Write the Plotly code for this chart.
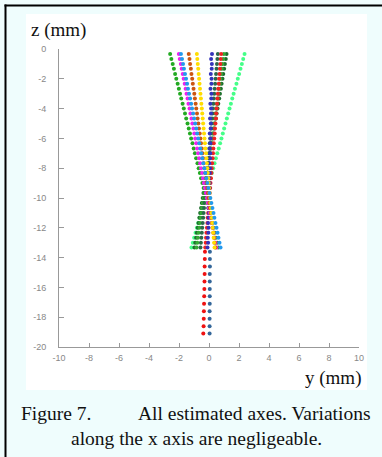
import plotly.graph_objects as go

# depth samples (mm) along each estimated axis
Z_CONE = [-0.33, -0.67, -1.00, -1.33, -1.67, -2.00, -2.33, -2.67, -3.00, -3.33,
          -3.67, -4.00, -4.33, -4.67, -5.00, -5.33, -5.67, -6.00, -6.33, -6.67,
          -7.00, -7.33, -7.67, -8.00, -8.33, -8.67, -9.00, -9.33, -9.67, -10.00,
          -10.33, -10.67, -11.00, -11.33, -11.67, -12.00, -12.33, -12.67, -13.00, -13.33]
Z_LOW = [-13.6, -14.1, -14.6, -15.1, -15.6, -16.1, -16.6, -17.1, -17.6, -18.1, -18.6, -19.1]

# y positions (mm) of each estimated axis
Y_GREEN = [-2.59, -2.51, -2.42, -2.34, -2.26, -2.18, -2.09, -2.01, -1.93, -1.85,
           -1.76, -1.68, -1.60, -1.52, -1.43, -1.35, -1.27, -1.19, -1.10, -1.02,
           -0.94, -0.86, -0.77, -0.69, -0.61, -0.53, -0.44, -0.36, -0.28, -0.20,
           -0.11, -0.03, 0.05, 0.13, 0.22, 0.30, 0.38, 0.46, 0.55, 0.63]
Y_MAGENTA = [-2.01, -1.95, -1.88, -1.82, -1.75, -1.69, -1.62, -1.56, -1.50, -1.43,
             -1.37, -1.30, -1.24, -1.17, -1.11, -1.04, -0.98, -0.92, -0.85, -0.79,
             -0.72, -0.66, -0.59, -0.53, -0.46, -0.40, -0.34, -0.27, -0.21, -0.14,
             -0.08, -0.01, 0.05, 0.11, 0.18, 0.24, 0.31, 0.37, 0.44, 0.50]
Y_SKY = [-1.87, -1.80, -1.73, -1.67, -1.60, -1.53, -1.46, -1.40, -1.33, -1.26,
         -1.19, -1.13, -1.06, -0.99, -0.92, -0.85, -0.79, -0.72, -0.65, -0.58,
         -0.52, -0.45, -0.38, -0.31, -0.25, -0.18, -0.11, -0.04, 0.03, 0.09,
         0.16, 0.23, 0.30, 0.36, 0.43, 0.50, 0.57, 0.63, 0.70, 0.77]
Y_ORANGE = [-1.35, -1.30, -1.26, -1.21, -1.17, -1.12, -1.08, -1.03, -0.98, -0.94,
            -0.89, -0.85, -0.80, -0.76, -0.71, -0.67, -0.62, -0.57, -0.53, -0.48,
            -0.44, -0.39, -0.35, -0.30, -0.25, -0.21, -0.16, -0.12, -0.07, -0.03,
            0.02, 0.06, 0.11, 0.16, 0.20, 0.25, 0.29, 0.34, 0.38, 0.43]
Y_YELLOW = [-0.81, -0.78, -0.75, -0.72, -0.69, -0.66, -0.63, -0.60, -0.57, -0.54,
            -0.51, -0.48, -0.45, -0.42, -0.39, -0.36, -0.33, -0.30, -0.27, -0.24,
            -0.20, -0.17, -0.14, -0.11, -0.08, -0.05, -0.02, 0.01, 0.04, 0.07,
            0.10, 0.13, 0.16, 0.19, 0.22, 0.25, 0.28, 0.31, 0.34, 0.37]
Y_NAVY = [0.20, 0.14, 0.19, 0.18, 0.12, 0.17, 0.16, 0.10, 0.16, 0.15,
          0.09, 0.14, 0.13, 0.07, 0.12, 0.11, 0.05, 0.10, 0.09, 0.04,
          0.08, 0.07, 0.02, 0.06, 0.05, 0.00, 0.04, 0.03, -0.02, 0.02,
          0.01, -0.04, 0.00, -0.02, -0.06, -0.03, -0.04, -0.08, -0.06, -0.10]
Y_TEAL = [0.59, 0.56, 0.53, 0.50, 0.47, 0.44, 0.41, 0.38, 0.35, 0.32,
          0.29, 0.26, 0.23, 0.20, 0.17, 0.14, 0.11, 0.08, 0.05, 0.02,
          -0.00, -0.03, -0.06, -0.09, -0.12, -0.15, -0.18, -0.21, -0.24, -0.27,
          -0.30, -0.33, -0.36, -0.39, -0.42, -0.45, -0.48, -0.51, -0.54, -0.57]
Y_RED = [0.81, 0.78, 0.76, 0.73, 0.70, 0.67, 0.65, 0.62, 0.59, 0.57,
         0.54, 0.51, 0.48, 0.46, 0.43, 0.40, 0.38, 0.35, 0.32, 0.29,
         0.27, 0.24, 0.21, 0.18, 0.16, 0.13, 0.10, 0.08, 0.05, 0.02,
         -0.01, -0.03, -0.06, -0.09, -0.11, -0.14, -0.17, -0.20, -0.22, -0.25]
Y_MIDGREEN = [0.99, 0.94, 0.90, 0.85, 0.80, 0.76, 0.71, 0.66, 0.62, 0.57,
              0.52, 0.48, 0.43, 0.38, 0.34, 0.29, 0.24, 0.20, 0.15, 0.10,
              0.06, 0.01, -0.04, -0.08, -0.13, -0.18, -0.22, -0.27, -0.32, -0.36,
              -0.41, -0.46, -0.50, -0.55, -0.60, -0.64, -0.69, -0.74, -0.78, -0.83]
Y_DARKGREEN = [1.17, 1.12, 1.06, 1.01, 0.95, 0.90, 0.84, 0.79, 0.73, 0.68,
               0.62, 0.57, 0.51, 0.46, 0.40, 0.35, 0.29, 0.24, 0.18, 0.13,
               0.07, 0.02, -0.04, -0.09, -0.15, -0.20, -0.26, -0.31, -0.37, -0.42,
               -0.48, -0.53, -0.59, -0.64, -0.70, -0.75, -0.81, -0.86, -0.92, -0.97]
Y_LIGHTGREEN = [2.37, 2.28, 2.19, 2.10, 2.01, 1.92, 1.83, 1.73, 1.64, 1.55,
                1.46, 1.37, 1.28, 1.19, 1.10, 1.01, 0.92, 0.83, 0.74, 0.65,
                0.55, 0.46, 0.37, 0.28, 0.19, 0.10, 0.01, -0.08, -0.17, -0.26,
                -0.35, -0.44, -0.53, -0.63, -0.72, -0.81, -0.90, -0.99, -1.08, -1.17]
Y_RED_LOW = [-0.27, -0.28, -0.29, -0.29, -0.30, -0.31, -0.32, -0.33, -0.34, -0.35, -0.36, -0.38]
Y_STEEL_LOW = [0.06, 0.06, 0.06, 0.05, 0.05, 0.05, 0.05, 0.05, 0.04, 0.04, 0.04, 0.04]

X_TICKS = [-10, -8, -6, -4, -2, 0, 2, 4, 6, 8, 10]
Z_TICKS = [0, -2, -4, -6, -8, -10, -12, -14, -16, -18, -20]

series = [
    (Z_CONE, Y_LIGHTGREEN, "#44ff88"),
    (Z_CONE, Y_DARKGREEN, "#1e6e2e"),
    (Z_CONE, Y_MIDGREEN, "#33aa33"),
    (Z_CONE, Y_TEAL, "#2a6a4a"),
    (Z_CONE, Y_RED, "#ee2222"),
    (Z_CONE, Y_NAVY, "#3333bb"),
    (Z_CONE, Y_GREEN, "#22aa22"),
    (Z_CONE, Y_MAGENTA, "#ee22ee"),
    (Z_CONE, Y_ORANGE, "#cc5511"),
    (Z_CONE, Y_YELLOW, "#ffdd00"),
    (Z_CONE, Y_SKY, "#2299ee"),
    (Z_LOW, Y_RED_LOW, "#ee1111"),
    (Z_LOW, Y_STEEL_LOW, "#336699"),
]

fig = go.Figure()
for zs, ys, col in series:
    fig.add_trace(go.Scatter(x=ys, y=zs, mode="markers",
                             marker=dict(size=4, color=col, line=dict(width=0)),
                             showlegend=False, hoverinfo="skip"))

W, H = 382, 457
ML, MR, MT, MB = 59, 23, 49, 110
PW, PH = W - ML - MR, H - MT - MB


def px(x):
    return (x - ML) / PW


def py(y):
    return (H - MB - y) / PH


shapes = [
    dict(type="rect", xref="paper", yref="paper", x0=px(26), x1=px(367), y0=py(390), y1=py(14),
         fillcolor="white", line=dict(width=0), layer="below"),
    dict(type="rect", xref="paper", yref="paper", x0=px(4.5), x1=px(6.5), y0=py(H + 2), y1=py(4.5),
         fillcolor="black", line=dict(width=0), layer="above"),
    dict(type="rect", xref="paper", yref="paper", x0=px(4.5), x1=px(W + 2), y0=py(6.5), y1=py(4.5),
         fillcolor="black", line=dict(width=0), layer="above"),
]

serif = "Liberation Serif, Times New Roman, serif"
annotations = [
    dict(text="z (mm)", x=px(29), y=py(30), xref="paper", yref="paper", xanchor="left",
         yanchor="middle", showarrow=False, font=dict(family=serif, size=19, color="#111")),
    dict(text="y (mm)", x=px(363), y=py(378), xref="paper", yref="paper", xanchor="right",
         yanchor="middle", showarrow=False, font=dict(family=serif, size=19, color="#111")),
    dict(text="Figure 7.", x=px(19), y=py(413), xref="paper", yref="paper", xanchor="left",
         yanchor="middle", showarrow=False, font=dict(family=serif, size=19.5, color="#111")),
    dict(text="All estimated axes. Variations", x=px(373), y=py(413), xref="paper", yref="paper",
         xanchor="right", yanchor="middle", showarrow=False,
         font=dict(family=serif, size=19.5, color="#111")),
    dict(text="along the x axis are negligeable.", x=px(196), y=py(438), xref="paper", yref="paper",
         xanchor="center", yanchor="middle", showarrow=False,
         font=dict(family=serif, size=19.5, color="#111")),
]

tickfont = dict(family="Liberation Sans, Arial, sans-serif", size=9, color="#888")
fig.update_layout(
    width=W, height=H,
    margin=dict(l=ML, r=MR, t=MT, b=MB, pad=0),
    paper_bgcolor="#effdfd",
    plot_bgcolor="white",
    shapes=shapes,
    annotations=annotations,
    xaxis=dict(range=[-10, 10], tickvals=X_TICKS, ticktext=[str(v) for v in X_TICKS],
               showgrid=False, zeroline=False, showline=True, linecolor="#999", linewidth=1,
               ticks="inside", ticklen=4, tickcolor="#999", tickfont=tickfont,
               ticklabelstandoff=2, fixedrange=True),
    yaxis=dict(range=[-20, 0], tickvals=Z_TICKS, ticktext=[str(v) for v in Z_TICKS],
               showgrid=False, zeroline=False, showline=True, linecolor="#999", linewidth=1,
               ticks="inside", ticklen=5, tickcolor="#999", tickfont=tickfont,
               ticklabelstandoff=10, fixedrange=True),
)

fig.write_html("out.html", config={"displayModeBar": False},
               post_script="document.body.style.margin='0';document.body.style.overflow='hidden';")
